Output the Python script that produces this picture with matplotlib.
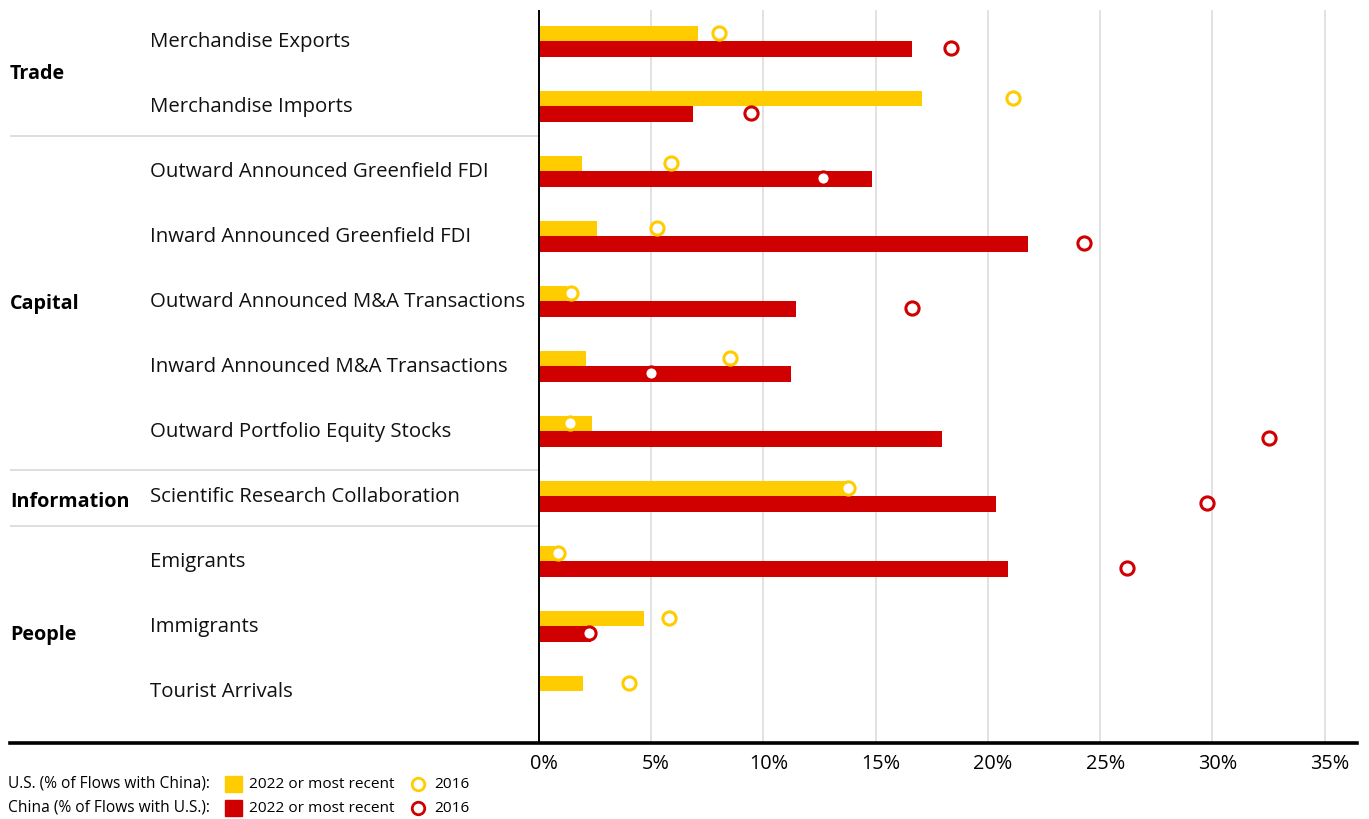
import matplotlib.pyplot as plt
from matplotlib.lines import Line2D
from matplotlib.patches import Rectangle
from matplotlib import transforms

plt.rcParams['font.family'] = ['Open Sans', 'DejaVu Sans']

# data
categories = ['Merchandise Exports', 'Merchandise Imports', 'Outward Announced Greenfield FDI',
              'Inward Announced Greenfield FDI', 'Outward Announced M&A Transactions',
              'Inward Announced M&A Transactions', 'Outward Portfolio Equity Stocks',
              'Scientific Research Collaboration', 'Emigrants', 'Immigrants', 'Tourist Arrivals']
us_recent = [7.1, 17.05, 1.9, 2.6, 1.25, 2.1, 2.35, 13.65, 0.7, 4.7, 1.95]
us_2016 = [8.0, 21.1, 5.9, 5.25, 1.45, 8.5, 1.4, 13.75, 0.85, 5.8, 4.0]
cn_recent = [16.6, 6.85, 14.85, 21.8, 11.45, 11.25, 17.95, 20.35, 20.9, 2.3, None]
cn_2016 = [18.35, 9.45, 12.65, 24.3, 16.6, 5.0, 32.5, 29.75, 26.2, 2.25, None]
groups = ['Trade', 'Capital', 'Information', 'People']
group_pos = [0.51, 4.05, 7.09, 9.14]
separators = [1.46, 6.6, 7.46]
ticks = [0, 5, 10, 15, 20, 25, 30, 35]

YELLOW = '#FFCC00'
RED = '#D10000'

fig = plt.figure(figsize=(13.69, 8.19), dpi=100)
ax = fig.add_axes([10 / 1369, 1 - 743 / 819, (1357 - 10) / 1369, (743 - 10) / 819])

ax.set_xlim(-23.56, 36.44)
ax.set_ylim(10.8, -0.477)

for t in ticks:
    ax.axvline(t, color='#dddddd', lw=1.2, zorder=0)
ax.axvline(0, color='black', lw=1.4, zorder=3)

rows = list(range(len(categories)))
ax.barh([r - 0.115 for r in rows], us_recent, height=0.23, color=YELLOW, zorder=2)
cn_rows = [r for r, v in zip(rows, cn_recent) if v is not None]
ax.barh([r + 0.123 for r in cn_rows], [v for v in cn_recent if v is not None],
        height=0.245, color=RED, zorder=2)
ax.plot(us_2016, [r - 0.13 for r in rows], 'o', ms=9.5, mfc='white', mec=YELLOW,
        mew=2.2, zorder=4, clip_on=False)
ax.plot([v for v in cn_2016 if v is not None], [r + 0.1 for r in cn_rows], 'o', ms=9.5,
        mfc='white', mec=RED, mew=2.2, zorder=4, clip_on=False)

for r, c in zip(rows, categories):
    ax.text(-17.33, r + 0.01, c, fontsize=14.7, va='center', ha='left', color='#111111')

trans = transforms.blended_transform_factory(ax.transAxes, ax.transData)
for g, p in zip(groups, group_pos):
    ax.text(0, p, g, transform=trans, fontsize=14.2, fontweight='bold', va='center', ha='left')
for s in separators:
    ax.plot([-23.56, 0], [s, s], color='#d8d8d8', lw=1.2, zorder=1)

for sp in ['top', 'right', 'left']:
    ax.spines[sp].set_visible(False)
ax.spines['bottom'].set_linewidth(2.6)
ax.spines['bottom'].set_color('black')
ax.set_yticks([])
ax.set_xticks(ticks)
ax.set_xticklabels([f'{t}%' for t in ticks], fontsize=14.3)
ax.tick_params(axis='x', length=0, pad=8)
shift = transforms.ScaledTranslation(5 / 100, 0, fig.dpi_scale_trans)
for lab in ax.get_xticklabels():
    lab.set_transform(lab.get_transform() + shift)

# legend at bottom
def fx(px):
    return px / 1369

def fy(py):
    return 1 - py / 819

leg_rows = [('U.S. (% of Flows with China):', YELLOW, 784),
            ('China (% of Flows with U.S.):', RED, 808)]
for label, col, py in leg_rows:
    fig.text(fx(8), fy(py), label, fontsize=11.2, va='center', ha='left')
    fig.add_artist(Rectangle((fx(225), fy(py + 8)), 17 / 1369, 16 / 819,
                             transform=fig.transFigure, color=col))
    fig.text(fx(249), fy(py), '2022 or most recent', fontsize=11.1, va='center', ha='left')
    fig.add_artist(Line2D([fx(418)], [fy(py)], marker='o', ms=9, mfc='white', mec=col,
                          mew=2, transform=fig.transFigure))
    fig.text(fx(434), fy(py), '2016', fontsize=11.1, va='center', ha='left')

plt.savefig('out.png', dpi=100)
